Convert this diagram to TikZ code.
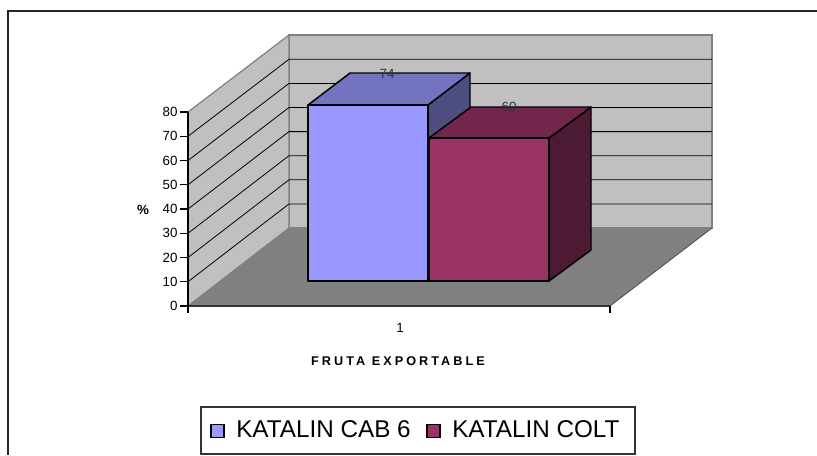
\documentclass[tikz,border=0pt]{standalone}
\usepackage{fontspec}
\setmainfont{Liberation Sans}
\definecolor{wall}{HTML}{C0C0C0}
\definecolor{floorgray}{HTML}{808080}
\definecolor{cabfront}{HTML}{9999FF}
\definecolor{cabtop}{HTML}{7373BF}
\definecolor{cabside}{HTML}{4D4D80}
\definecolor{coltfront}{HTML}{993366}
\definecolor{colttop}{HTML}{73264D}
\definecolor{coltside}{HTML}{4D1A33}
\tikzset{
  barface/.style={draw=black, line width=1.1pt, line join=round},
  keybox/.style={draw=black, line width=0.8pt, minimum size=9.75pt, inner sep=0pt},
  keytext/.style={anchor=base west, inner sep=0pt, font=\fontsize{18.2}{20}\selectfont}
}

\begin{document}
\begin{tikzpicture}[x=0.75pt, y=-0.75pt, every node/.style={font=\fontsize{10}{12}\selectfont}]
\useasboundingbox (0,0) rectangle (817,455);

\draw[line width=1pt, black!85] (8,455)--(8,11)--(817,11);

\coordinate (fl) at (188,306);
\coordinate (fr) at (610,306);
\coordinate (bl) at (289,228);
\coordinate (br) at (712,228);
\coordinate (ftop) at (188,112);
\coordinate (btl) at (289,35);
\coordinate (btr) at (712,35);

% walls and floor
\filldraw[fill=wall, draw=floorgray, line width=0.9pt] (bl) rectangle (btr);
\filldraw[fill=wall, draw=floorgray, line width=0.9pt] (fl)--(ftop)--(btl)--(bl)--cycle;
\foreach \k in {1,...,7}
   {
	\draw[line width=0.6pt] (188,{306-24.25*\k})--(289,{228-24.1*\k})--(712,{228-24.1*\k});
   };
\fill[floorgray] (fl)--(fr)--(br)--(bl)--cycle;
\draw[floorgray!60!black, line width=0.6pt] (fr)--(br);

% KATALIN CAB 6
\filldraw[barface, fill=cabside] (428,105)--(470,73)--(470,249)--(428,281)--cycle;
\filldraw[barface, fill=cabtop] (308,105)--(350,73)--(470,73)--(428,105)--cycle;
\filldraw[barface, fill=cabfront] (308,105) rectangle (428,281);
\node[text=black!80] (v74) at (387,74) {74};

% KATALIN COLT
\filldraw[barface, fill=coltside] (549,138)--(591,107)--(591,250)--(549,281)--cycle;
\filldraw[barface, fill=colttop] (429,138)--(471,107)--(591,107)--(549,138)--cycle;
\filldraw[barface, fill=coltfront] (429,138) rectangle (549,281);
\node[text=black!80] (v60) at (509,107) {60};

% axes
\draw[line width=1.2pt, black!80] (fl)--(fr);
\draw[line width=0.8pt] (ftop)--(188,313);
\draw[line width=0.8pt] (fr)--(610,313);
\foreach \v [count=\i from 0] in {0,10,...,80}
   {
	\draw[line width=0.8pt] (188,{306-24.25*\i})--(180,{306-24.25*\i}) node[left, inner sep=1.5pt] (tick\v) {\v};
   };
\node (cat) at (400,328) {1};
\node[font=\fontsize{9.5}{11}\selectfont\bfseries\addfontfeature{LetterSpace=24}] (xtitle) at (398,361) {FRUTA EXPORTABLE};
\node[font=\fontsize{10}{12}\selectfont\bfseries] (ytitle) at (143,210) {\%};

% legend
\draw[line width=0.8pt, black!80] (201,407) rectangle (635,454);
\node[keybox, fill=cabfront] (cabkey) at (217.5,431) {};
\node[keytext] (cab) at (236,437) {KATALIN CAB 6};
\node[keybox, fill=coltfront] (coltkey) at (433.5,431) {};
\node[keytext] (colt) at (452,437) {KATALIN COLT};
\end{tikzpicture}
\end{document}
